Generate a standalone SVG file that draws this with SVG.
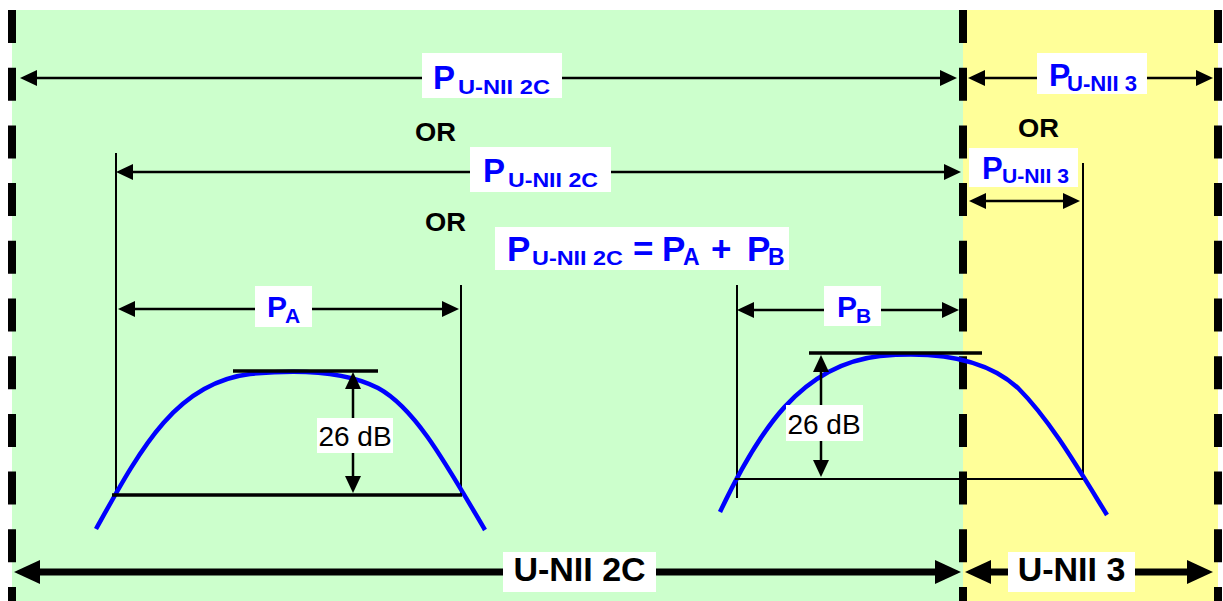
<svg xmlns="http://www.w3.org/2000/svg" width="1223" height="601" viewBox="0 0 1223 601">
<style>
.lbl{fill:#ffffff}
.p{font-family:"Liberation Sans",Arial,sans-serif;font-weight:bold;fill:#0000ff}
.blk{font-family:"Liberation Sans",Arial,sans-serif;font-weight:bold;fill:#000000}
.db{font-family:"Liberation Sans",Arial,sans-serif;font-size:28px;fill:#000000}
.bound{stroke:#000;stroke-width:8;stroke-dasharray:33 24.7;fill:none}
.thin{stroke:#000;stroke-width:2.5;fill:none}
.ext{stroke:#000;stroke-width:2;fill:none}
.flat{stroke:#000;stroke-width:3.5;fill:none}
.thick{stroke:#000;stroke-width:7;fill:none}
.curve{stroke:#0000ff;stroke-width:4.5;fill:none;stroke-linecap:butt}
</style>
<defs>
<marker id="ah" markerUnits="userSpaceOnUse" markerWidth="18" markerHeight="18" viewBox="-1 -9 18 18" refX="0" refY="0" orient="auto-start-reverse"><path d="M-1,-8 L16,0 L-1,8 Z" fill="#000"/></marker>
<marker id="ahb" markerUnits="userSpaceOnUse" markerWidth="28" markerHeight="28" viewBox="-1 -13 28 26" refX="0" refY="0" orient="auto-start-reverse"><path d="M-1,-12 L25,0 L-1,12 Z" fill="#000"/></marker>
</defs>
<g id="band-unii2c"><rect x="12" y="10" width="951" height="591" fill="#ccffcc"/></g>
<g id="band-unii3"><rect x="963" y="10" width="255" height="591" fill="#ffff99"/></g>
<g id="boundaries">
<line class="bound" x1="12" y1="10" x2="12" y2="601"/>
<line class="bound" x1="963" y1="10" x2="963" y2="601"/>
<line class="bound" x1="1218" y1="10" x2="1218" y2="601"/>
</g>
<g id="extension-lines">
<line class="ext" x1="116" y1="153" x2="116" y2="496"/>
<line class="ext" x1="461" y1="285" x2="461" y2="496"/>
<line class="ext" x1="737" y1="285" x2="737" y2="498"/>
<line class="ext" x1="1083" y1="163" x2="1083" y2="479"/>
</g>
<g id="curve-a">
<path class="curve" d="M96,529 C140,450 175,383 250,374 C300,369 345,371 378,388 C415,408 445,462 485,530"/>
<line class="flat" x1="233" y1="371" x2="378" y2="371"/>
<line class="flat" x1="112" y1="495" x2="462" y2="495"/>
</g>
<g id="curve-b">
<path class="curve" d="M720,512 C758,432 800,365 880,356 C935,351 985,358 1018,388 C1050,420 1078,468 1107,515"/>
<line class="flat" x1="809" y1="353" x2="982" y2="353"/>
<line class="ext" x1="735" y1="479" x2="1083" y2="479"/>
</g>
<g id="connectors">
<line class="thin" x1="36" y1="78" x2="941" y2="78" marker-start="url(#ah)" marker-end="url(#ah)"/>
<line class="thin" x1="984" y1="78" x2="1197" y2="78" marker-start="url(#ah)" marker-end="url(#ah)"/>
<line class="thin" x1="132" y1="172" x2="945" y2="172" marker-start="url(#ah)" marker-end="url(#ah)"/>
<line class="thin" x1="985" y1="201" x2="1064" y2="201" marker-start="url(#ah)" marker-end="url(#ah)"/>
<line class="thin" x1="134" y1="309" x2="443" y2="309" marker-start="url(#ah)" marker-end="url(#ah)"/>
<line class="thin" x1="753" y1="310" x2="943" y2="310" marker-start="url(#ah)" marker-end="url(#ah)"/>
<line class="thin" x1="353" y1="388" x2="353" y2="477" marker-start="url(#ah)" marker-end="url(#ah)"/>
<line class="thin" x1="821" y1="371" x2="821" y2="461" marker-start="url(#ah)" marker-end="url(#ah)"/>
<line class="thick" x1="39" y1="572" x2="936" y2="572" marker-start="url(#ahb)" marker-end="url(#ahb)"/>
<line class="thick" x1="990" y1="572" x2="1188" y2="572" marker-start="url(#ahb)" marker-end="url(#ahb)"/>
</g>
<g id="label-p2c-1">
<rect class="lbl" x="422" y="53" width="140" height="45"/>
<text class="p" x="433" y="89" font-size="33">P</text>
<text class="p" x="458" y="94" font-size="21" textLength="92" lengthAdjust="spacingAndGlyphs">U-NII 2C</text>
</g>
<g id="label-p3-1">
<rect class="lbl" x="1037" y="53" width="110" height="41"/>
<text class="p" x="1049" y="86" font-size="32">P</text>
<text class="p" x="1067" y="91" font-size="22" textLength="70" lengthAdjust="spacingAndGlyphs">U-NII 3</text>
</g>
<g id="or-1"><text class="blk" x="415" y="140.5" font-size="25" textLength="41" lengthAdjust="spacingAndGlyphs">OR</text></g>
<g id="or-3"><text class="blk" x="1018" y="137" font-size="25" textLength="41" lengthAdjust="spacingAndGlyphs">OR</text></g>
<g id="label-p2c-2">
<rect class="lbl" x="470" y="147" width="141" height="45"/>
<text class="p" x="483" y="182" font-size="33">P</text>
<text class="p" x="508" y="187" font-size="21" textLength="90" lengthAdjust="spacingAndGlyphs">U-NII 2C</text>
</g>
<g id="label-p3-2">
<rect class="lbl" x="969" y="148" width="109" height="39"/>
<text class="p" x="982" y="179" font-size="31">P</text>
<text class="p" x="1002" y="183" font-size="21" textLength="67" lengthAdjust="spacingAndGlyphs">U-NII 3</text>
</g>
<g id="or-2"><text class="blk" x="425" y="231" font-size="25" textLength="41" lengthAdjust="spacingAndGlyphs">OR</text></g>
<g id="label-equation">
<rect class="lbl" x="495" y="227" width="294" height="43"/>
<text class="p" x="507" y="261" font-size="35">P</text>
<text class="p" x="532" y="265" font-size="21" textLength="91" lengthAdjust="spacingAndGlyphs">U-NII 2C</text>
<text class="p" x="633" y="261" font-size="35">=</text>
<text class="p" x="662" y="261" font-size="35">P</text>
<text class="p" x="683" y="265" font-size="23">A</text>
<text class="p" x="711" y="261" font-size="35">+</text>
<text class="p" x="747" y="261" font-size="35">P</text>
<text class="p" x="768" y="265" font-size="23">B</text>
</g>
<g id="label-pa">
<rect class="lbl" x="255" y="286" width="57" height="41"/>
<text class="p" x="267" y="317" font-size="30">P</text>
<text class="p" x="285" y="323" font-size="21">A</text>
</g>
<g id="label-pb">
<rect class="lbl" x="824" y="286" width="57" height="40"/>
<text class="p" x="837" y="317" font-size="30">P</text>
<text class="p" x="856" y="323" font-size="21">B</text>
</g>
<g id="label-26db-a">
<rect class="lbl" x="317" y="418" width="76" height="35"/>
<text class="db" x="355" y="446" text-anchor="middle">26 dB</text>
</g>
<g id="label-26db-b">
<rect class="lbl" x="786" y="405" width="77" height="36"/>
<text class="db" x="824" y="434" text-anchor="middle">26 dB</text>
</g>
<g id="label-unii2c">
<rect class="lbl" x="503" y="552" width="153" height="40"/>
<text class="blk" x="579.5" y="581" font-size="34" text-anchor="middle">U-NII 2C</text>
</g>
<g id="label-unii3">
<rect class="lbl" x="1008" y="552" width="127" height="40"/>
<text class="blk" x="1071.5" y="581" font-size="34" text-anchor="middle">U-NII 3</text>
</g>
</svg>
